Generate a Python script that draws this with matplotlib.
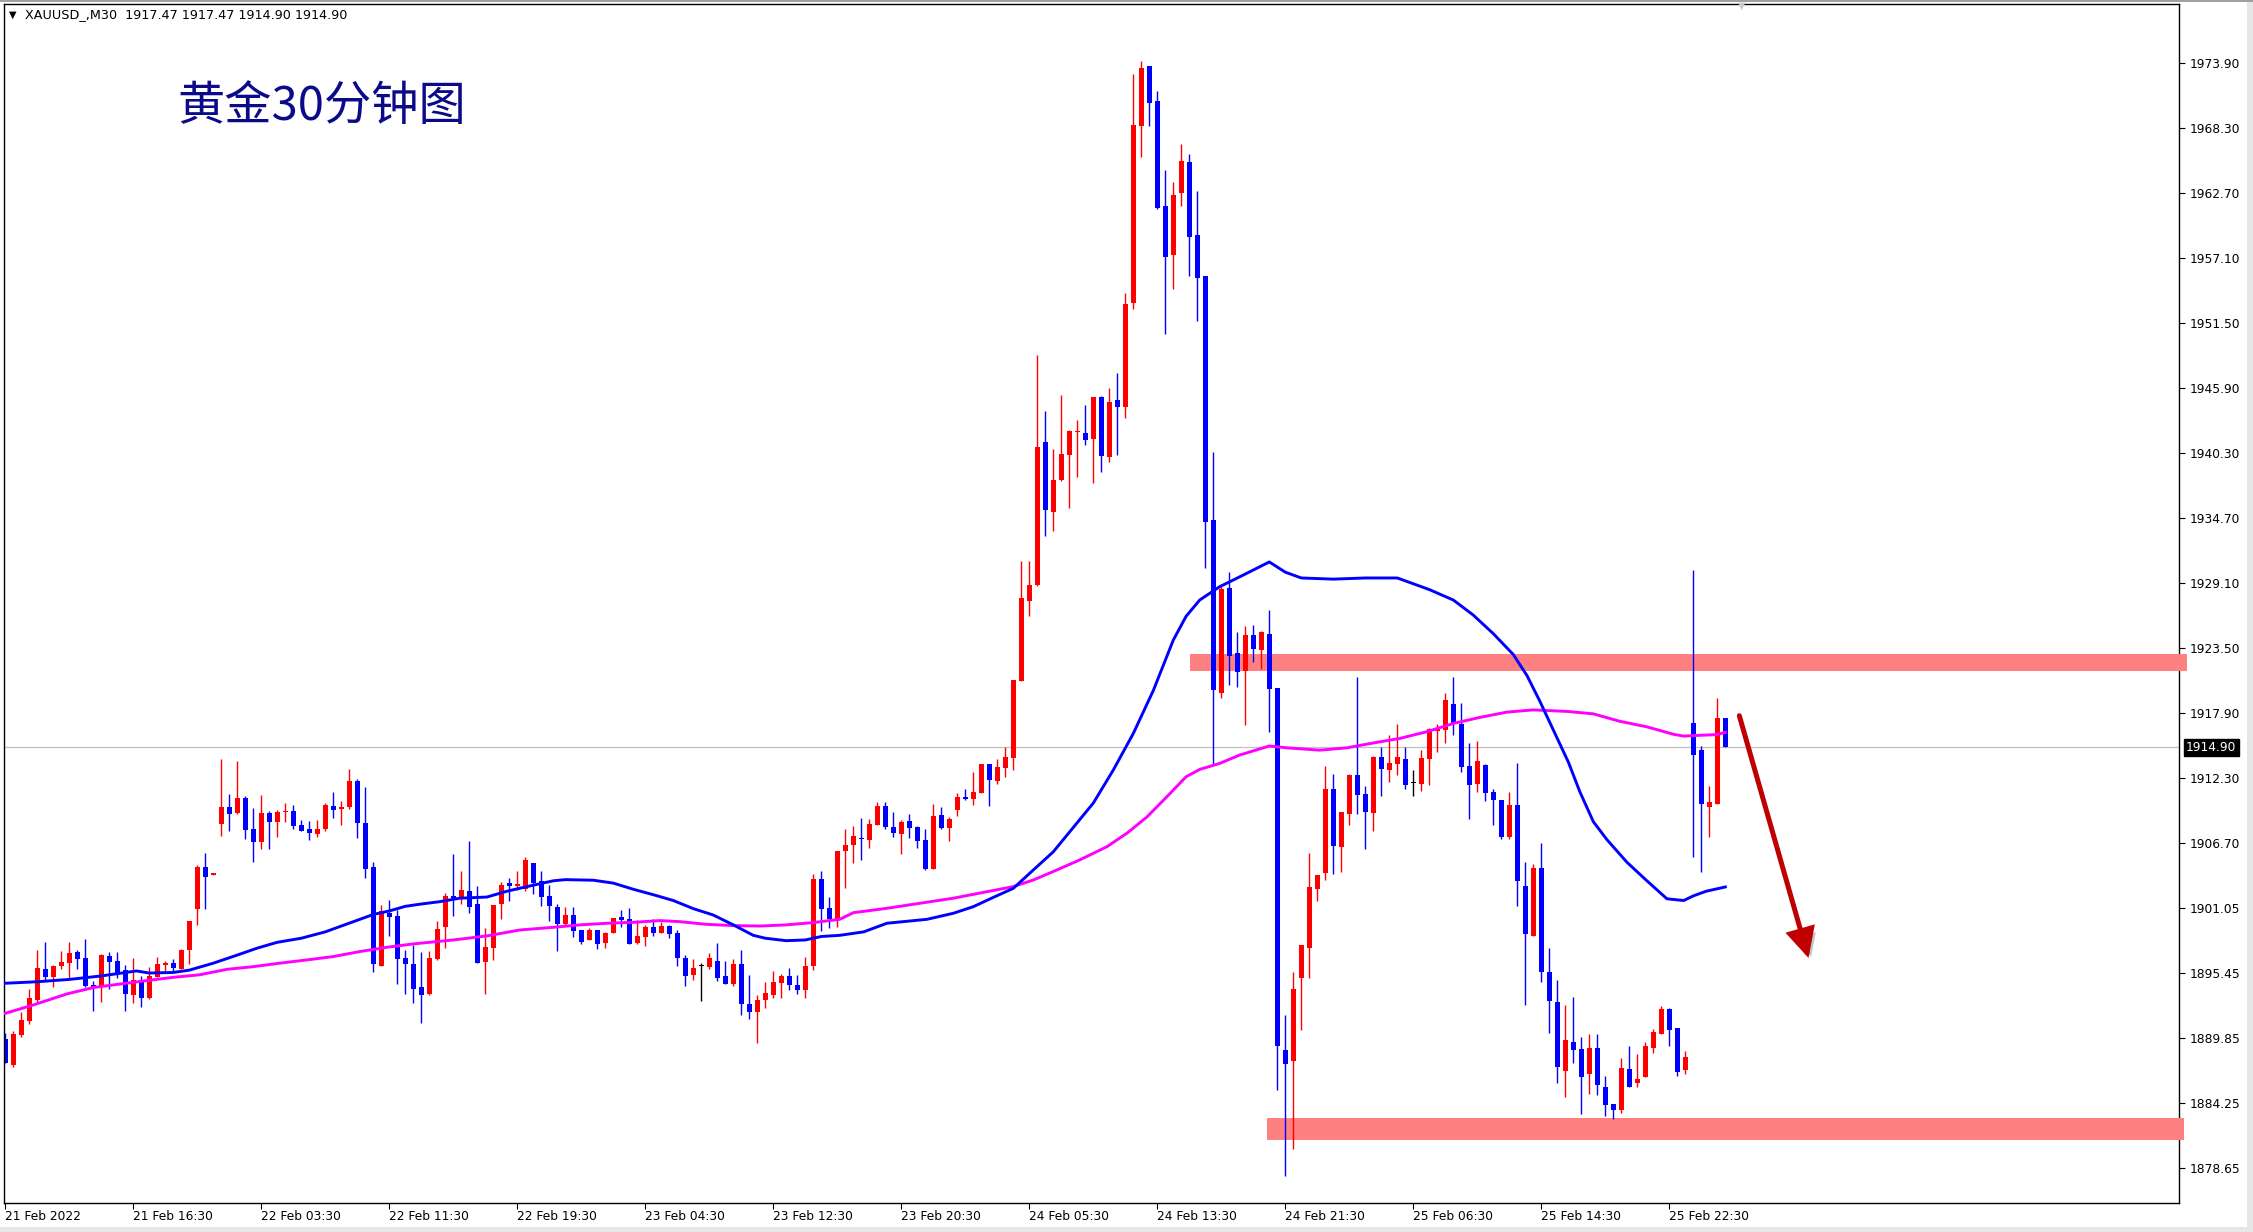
import matplotlib
matplotlib.use("Agg")
import matplotlib.pyplot as plt
from matplotlib.patches import Rectangle, FancyArrowPatch
from matplotlib import patheffects, transforms
import numpy as np

# ---------------- data ----------------
opens = [
    1889.74, 1887.50, 1890.12, 1891.32, 1893.13, 1895.80, 1895.11, 1896.06, 1896.32, 1897.30,
    1896.75, 1894.40, 1894.28, 1896.92, 1896.49, 1895.72, 1893.56, 1894.86, 1893.30, 1895.14,
    1896.18, 1896.32, 1895.80, 1897.44, 1900.97, 1904.59, 1903.93, 1908.30, 1909.76, 1909.25,
    1910.54, 1907.87, 1906.75, 1909.25, 1908.47, 1909.33, 1909.42, 1908.21, 1907.87, 1907.44,
    1907.87, 1909.85, 1909.62, 1909.76, 1912.00, 1908.39, 1904.59, 1896.06, 1900.63, 1900.37,
    1896.75, 1896.23, 1894.25, 1893.65, 1896.66, 1899.42, 1902.09, 1901.92, 1902.52, 1901.40,
    1896.40, 1897.61, 1901.40, 1903.21, 1902.96, 1902.70, 1904.94, 1903.39, 1902.09, 1901.14,
    1899.68, 1900.45, 1899.16, 1898.30, 1899.16, 1898.04, 1898.90, 1900.28, 1900.11, 1898.04,
    1898.56, 1899.42, 1898.90, 1899.51, 1898.90, 1896.75, 1895.28, 1896.06, 1895.97, 1896.49,
    1895.20, 1894.51, 1896.23, 1892.78, 1892.09, 1893.13, 1893.56, 1894.59, 1895.20, 1894.42,
    1893.99, 1896.06, 1903.56, 1901.06, 1900.11, 1905.97, 1906.48, 1907.09, 1906.92, 1908.21,
    1909.85, 1908.04, 1907.43, 1908.55, 1908.04, 1906.92, 1904.41, 1909.07, 1907.95, 1909.50,
    1910.62, 1910.45, 1910.97, 1913.47, 1912.00, 1913.12, 1913.98, 1920.62, 1927.51, 1928.89,
    1941.22, 1935.18, 1937.94, 1940.10, 1942.08, 1941.99, 1941.48, 1945.09, 1939.92, 1944.84,
    1944.23, 1953.20, 1968.45, 1973.62, 1970.60, 1961.56, 1957.33, 1962.68, 1965.35, 1959.06,
    1955.52, 1934.49, 1919.58, 1928.63, 1923.00, 1921.47, 1924.58, 1923.32, 1924.68, 1920.01,
    1888.78, 1887.91, 1895.01, 1897.63, 1902.69, 1904.06, 1911.35, 1906.29, 1909.12, 1912.52,
    1910.87, 1909.21, 1914.08, 1912.91, 1913.49, 1913.88, 1911.84, 1911.74, 1913.88, 1916.31,
    1916.41, 1918.65, 1916.90, 1913.30, 1911.74, 1913.40, 1911.06, 1910.38, 1907.17, 1909.89,
    1902.99, 1898.61, 1904.54, 1895.50, 1892.96, 1887.03, 1889.51, 1888.90, 1886.77, 1889.00,
    1885.59, 1884.15, 1883.67, 1887.18, 1886.00, 1886.45, 1889.03, 1890.21, 1892.35, 1890.69,
    1887.12, 1916.99, 1914.66, 1909.72, 1910.01, 1917.47,
]
highs = [
    1890.26, 1890.46, 1892.13, 1894.05, 1897.44, 1898.13, 1896.10, 1897.35, 1898.13, 1897.44,
    1898.39, 1894.77, 1897.09, 1897.27, 1897.27, 1896.15, 1896.72, 1895.20, 1895.98, 1896.81,
    1896.46, 1896.66, 1897.53, 1899.94, 1904.77, 1905.80, 1904.05, 1913.90, 1910.88, 1913.73,
    1910.71, 1909.68, 1910.80, 1909.42, 1909.51, 1910.11, 1909.94, 1908.64, 1908.56, 1908.64,
    1910.11, 1911.06, 1910.28, 1913.04, 1912.18, 1911.49, 1905.02, 1901.32, 1901.75, 1900.89,
    1897.44, 1897.87, 1897.27, 1897.35, 1899.94, 1902.35, 1905.71, 1904.25, 1906.83, 1902.96,
    1899.34, 1901.32, 1903.30, 1903.65, 1904.25, 1905.45, 1904.94, 1904.25, 1903.04, 1901.40,
    1901.14, 1901.14, 1899.16, 1899.34, 1899.16, 1899.00, 1900.20, 1900.89, 1901.06, 1900.02,
    1899.59, 1900.11, 1899.85, 1899.59, 1899.16, 1897.01, 1896.66, 1896.32, 1897.18, 1898.04,
    1896.49, 1896.66, 1897.44, 1895.28, 1893.56, 1894.68, 1895.63, 1895.37, 1895.89, 1895.28,
    1896.84, 1903.99, 1904.25, 1902.01, 1905.97, 1907.86, 1908.12, 1908.81, 1908.73, 1910.19,
    1910.19, 1909.33, 1908.64, 1909.16, 1908.12, 1907.86, 1910.02, 1909.76, 1908.90, 1910.97,
    1911.31, 1912.78, 1913.47, 1913.47, 1913.90, 1914.93, 1920.70, 1930.96, 1930.96, 1948.71,
    1943.89, 1940.61, 1945.27, 1942.25, 1943.11, 1944.40, 1945.09, 1945.18, 1945.87, 1947.16,
    1954.06, 1972.93, 1974.05, 1973.62, 1971.47, 1964.66, 1963.62, 1966.90, 1966.04, 1962.85,
    1955.52, 1940.35, 1928.80, 1930.01, 1924.84, 1925.36, 1925.46, 1924.97, 1926.72, 1920.01,
    1891.80, 1895.50, 1897.83, 1905.81, 1903.86, 1913.30, 1912.62, 1909.31, 1912.62, 1920.98,
    1911.55, 1914.17, 1914.95, 1915.93, 1916.90, 1914.95, 1912.91, 1914.66, 1916.61, 1916.90,
    1919.62, 1920.98, 1918.75, 1915.24, 1915.44, 1913.49, 1911.35, 1910.38, 1911.06, 1913.59,
    1905.03, 1904.83, 1906.68, 1897.63, 1894.81, 1892.67, 1893.40, 1889.92, 1890.21, 1890.21,
    1886.58, 1884.15, 1888.14, 1889.16, 1888.46, 1889.48, 1890.63, 1892.60, 1892.41, 1890.69,
    1888.74, 1930.22, 1914.98, 1911.57, 1919.16, 1917.47,
]
lows = [
    1887.67, 1887.39, 1889.97, 1891.06, 1892.99, 1894.86, 1894.28, 1895.77, 1895.00, 1895.83,
    1894.28, 1892.21, 1892.99, 1894.05, 1894.99, 1892.21, 1892.90, 1892.56, 1893.24, 1895.11,
    1895.63, 1895.60, 1895.80, 1896.23, 1899.59, 1900.97, 1903.93, 1907.26, 1907.70, 1909.16,
    1907.01, 1905.02, 1906.14, 1906.14, 1907.18, 1908.47, 1907.87, 1907.72, 1906.92, 1907.18,
    1907.70, 1908.82, 1908.21, 1909.59, 1907.09, 1903.65, 1895.54, 1896.06, 1898.65, 1894.51,
    1893.65, 1892.87, 1891.18, 1893.56, 1896.58, 1897.61, 1900.37, 1901.40, 1900.63, 1896.32,
    1893.65, 1896.58, 1900.11, 1901.66, 1902.61, 1902.52, 1902.27, 1901.23, 1899.94, 1897.35,
    1899.59, 1898.56, 1897.96, 1898.30, 1897.52, 1897.61, 1898.90, 1899.42, 1897.96, 1897.96,
    1897.78, 1898.65, 1898.90, 1898.47, 1896.06, 1894.34, 1894.85, 1893.04, 1895.80, 1894.77,
    1894.51, 1894.34, 1891.80, 1891.49, 1889.42, 1892.44, 1893.30, 1893.30, 1893.99, 1893.65,
    1893.30, 1895.72, 1899.08, 1899.34, 1899.45, 1902.81, 1904.90, 1905.19, 1906.23, 1908.21,
    1907.86, 1907.17, 1905.71, 1907.09, 1906.23, 1904.33, 1904.41, 1907.86, 1906.83, 1908.98,
    1910.36, 1909.93, 1910.97, 1909.85, 1911.75, 1912.35, 1912.95, 1920.62, 1926.22, 1928.80,
    1933.12, 1933.55, 1937.86, 1935.53, 1938.20, 1940.96, 1937.69, 1938.63, 1939.49, 1940.10,
    1943.29, 1952.68, 1965.78, 1968.45, 1961.31, 1950.52, 1954.40, 1961.56, 1955.52, 1951.64,
    1930.36, 1913.38, 1919.15, 1920.27, 1920.13, 1916.80, 1922.25, 1921.67, 1916.22, 1885.38,
    1877.98, 1880.32, 1890.53, 1895.01, 1901.62, 1903.47, 1903.96, 1904.15, 1908.24, 1909.12,
    1906.10, 1907.66, 1910.67, 1911.94, 1912.52, 1911.35, 1910.67, 1911.16, 1911.64, 1914.47,
    1915.24, 1915.93, 1912.81, 1908.73, 1911.06, 1910.28, 1908.24, 1906.97, 1906.97, 1901.23,
    1892.67, 1898.61, 1894.72, 1890.24, 1885.96, 1884.79, 1887.66, 1883.26, 1885.05, 1884.95,
    1883.13, 1882.88, 1883.36, 1885.65, 1885.59, 1886.45, 1888.55, 1890.21, 1889.19, 1886.55,
    1886.77, 1905.48, 1904.14, 1907.20, 1910.01, 1914.90,
]
closes = [
    1887.73, 1890.20, 1891.41, 1893.33, 1895.92, 1895.11, 1896.06, 1896.41, 1897.18, 1896.70,
    1894.37, 1894.22, 1897.01, 1896.41, 1895.43, 1893.65, 1894.86, 1893.33, 1895.20, 1896.23,
    1896.29, 1895.89, 1897.44, 1899.94, 1904.59, 1903.73, 1904.05, 1909.76, 1909.16, 1910.54,
    1907.78, 1906.75, 1909.25, 1908.47, 1909.33, 1909.42, 1908.13, 1907.72, 1907.55, 1907.87,
    1909.94, 1909.51, 1909.76, 1912.00, 1908.39, 1904.42, 1896.23, 1900.80, 1900.28, 1896.66,
    1896.23, 1894.08, 1893.56, 1896.75, 1899.25, 1902.09, 1901.92, 1902.61, 1901.14, 1896.32,
    1897.70, 1901.32, 1903.04, 1902.96, 1903.13, 1905.20, 1903.21, 1902.01, 1901.23, 1899.68,
    1900.45, 1899.08, 1898.13, 1899.16, 1897.96, 1898.90, 1900.20, 1900.02, 1897.96, 1898.65,
    1899.42, 1898.90, 1899.51, 1898.82, 1896.75, 1895.20, 1895.89, 1896.06, 1896.75, 1895.02,
    1894.51, 1896.23, 1892.78, 1892.09, 1893.13, 1893.73, 1894.68, 1895.20, 1894.42, 1893.99,
    1896.06, 1903.56, 1900.97, 1900.11, 1905.97, 1906.48, 1907.26, 1907.00, 1908.30, 1909.85,
    1908.04, 1907.52, 1908.47, 1907.95, 1906.83, 1904.41, 1908.98, 1907.95, 1908.73, 1910.62,
    1910.45, 1911.05, 1913.47, 1912.09, 1913.21, 1914.07, 1920.70, 1927.77, 1928.89, 1940.79,
    1935.36, 1937.94, 1940.18, 1942.17, 1942.17, 1941.39, 1945.09, 1940.01, 1944.66, 1944.23,
    1953.11, 1968.54, 1973.45, 1970.43, 1961.38, 1957.16, 1962.50, 1965.43, 1958.88, 1955.35,
    1934.32, 1919.84, 1928.55, 1922.77, 1921.42, 1924.58, 1923.42, 1924.88, 1919.91, 1889.17,
    1887.61, 1894.04, 1897.83, 1902.89, 1903.86, 1911.35, 1906.39, 1909.31, 1912.52, 1910.77,
    1909.31, 1914.08, 1913.01, 1913.59, 1914.08, 1911.64, 1911.84, 1913.98, 1916.51, 1916.51,
    1918.94, 1916.90, 1913.20, 1911.64, 1913.69, 1910.96, 1910.38, 1907.17, 1909.89, 1903.38,
    1898.80, 1904.54, 1895.50, 1893.06, 1887.32, 1889.66, 1888.78, 1886.51, 1889.00, 1885.84,
    1884.09, 1883.67, 1887.28, 1885.65, 1886.32, 1889.16, 1890.37, 1892.35, 1890.50, 1886.96,
    1888.20, 1914.28, 1909.98, 1910.20, 1917.40, 1914.90,
]

time_labels = ["21 Feb 2022", "21 Feb 16:30", "22 Feb 03:30", "22 Feb 11:30", "22 Feb 19:30",
               "23 Feb 04:30", "23 Feb 12:30", "23 Feb 20:30", "24 Feb 05:30", "24 Feb 13:30",
               "24 Feb 21:30", "25 Feb 06:30", "25 Feb 14:30", "25 Feb 22:30"]
price_ticks = [1973.90, 1968.30, 1962.70, 1957.10, 1951.50, 1945.90, 1940.30, 1934.70, 1929.10,
               1923.50, 1917.90, 1912.30, 1906.70, 1901.05, 1895.45, 1889.85, 1884.25, 1878.65]

# moving averages read at sample bars
ma_fast_bar = [0, 4, 8, 12, 16.4, 18, 21, 23, 26, 29, 31.5, 34, 37, 40, 42, 44, 46, 48, 50, 52,
               54.3, 56.8, 60.2, 62.7, 65.2, 68.5, 70, 73.5, 76, 78.5, 81, 83.5, 86, 88.5, 91,
               93.5, 95, 97.6, 100, 102, 104.3, 107.3, 110.2, 115.2, 118.5, 121, 123.5, 126,
               128.5, 131, 133.5, 136, 138.5, 141, 143.5, 146, 147.6, 149.3, 151.8, 154.3, 158,
               160, 162, 166, 170, 174, 178, 181, 183.5, 186, 188.5, 190.2, 191.8, 193.5, 195.4,
               196.8, 198.5, 200.2, 202.7, 205.2, 207.7, 209.8, 211, 212.6, 215]
ma_fast_val = [1894.57, 1894.70, 1894.90, 1895.20, 1895.63, 1895.45, 1895.50, 1895.70, 1896.30,
               1897.00, 1897.60, 1898.10, 1898.45, 1899.00, 1899.50, 1900.00, 1900.50, 1900.80,
               1901.20, 1901.40, 1901.60, 1901.90, 1902.00, 1902.50, 1902.90, 1903.40, 1903.50,
               1903.45, 1903.20, 1902.67, 1902.20, 1901.70, 1901.00, 1900.45, 1899.60, 1898.70,
               1898.45, 1898.24, 1898.30, 1898.60, 1898.70, 1899.00, 1899.74, 1900.08, 1900.60,
               1901.17, 1901.97, 1902.75, 1904.33, 1905.90, 1908.00, 1910.10, 1912.95, 1916.10,
               1919.80, 1924.15, 1926.20, 1927.60, 1928.75, 1929.60, 1930.88, 1930.00, 1929.50,
               1929.40, 1929.50, 1929.50, 1928.50, 1927.60, 1926.30, 1924.70, 1922.90, 1921.10,
               1918.90, 1916.40, 1913.60, 1911.10, 1908.50, 1906.95, 1905.00, 1903.40, 1901.85,
               1901.70, 1902.10, 1902.50, 1902.87]
ma_slow_bar = [0, 3.5, 7.7, 11, 14.3, 17.7, 21, 24.3, 27.7, 31, 34.3, 37.7, 41, 44.3, 47.7, 51,
               56, 60.2, 64.3, 68.5, 71.8, 75.2, 78.5, 81.8, 84.3, 87.6, 91, 94.3, 97.6, 101,
               104.3, 106, 110.2, 114.3, 118.5, 122.7, 126, 128.5, 131, 134.3, 137.7, 140.2,
               142.7, 145.2, 147.6, 149.3, 151.8, 154.3, 158, 160.2, 164.3, 167.7, 171, 174.3,
               177.7, 181, 184.3, 187.7, 191, 195.2, 198.5, 201.8, 205.2, 208.5, 209.8, 211.8,
               213.9, 215]
ma_slow_val = [1891.98, 1892.70, 1893.65, 1894.20, 1894.50, 1894.80, 1895.08, 1895.30, 1895.77,
               1896.00, 1896.30, 1896.58, 1896.87, 1897.30, 1897.67, 1897.96, 1898.30, 1898.65,
               1899.16, 1899.39, 1899.60, 1899.74, 1899.82, 1899.97, 1899.88, 1899.65, 1899.54,
               1899.50, 1899.60, 1899.80, 1900.08, 1900.65, 1901.03, 1901.46, 1901.90, 1902.46,
               1902.90, 1903.47, 1904.20, 1905.20, 1906.34, 1907.50, 1908.90, 1910.65, 1912.37,
               1913.00, 1913.52, 1914.24, 1915.02, 1914.86, 1914.66, 1914.86, 1915.28, 1915.67,
               1916.25, 1916.96, 1917.48, 1917.94, 1918.13, 1918.00, 1917.79, 1917.15, 1916.67,
               1916.03, 1915.87, 1915.94, 1916.00, 1916.19]

zone_start = [148.1, 157.7]
zone_end = [272.7, 272.3]
zone_low = [1921.48, 1881.06]
zone_high = [1922.95, 1882.95]
arrow_from = (216.75, 1917.63)
arrow_to = (225.4, 1896.75)
current_price = 1914.90
symbol = "XAUUSD_,M30"
title = "黄金30分钟图"

# ---------------- figure ----------------
W, H = 2253, 1232
fig = plt.figure(figsize=(W / 100, H / 100), dpi=100)
fig.patch.set_facecolor("white")
ax = fig.add_axes([4 / W, 1 - 1203 / H, 2175 / W, 1199 / H])
ax.set_xlim(-0.1625, 271.71)
ax.set_ylim(1875.63, 1978.97)

o = np.array(opens); h = np.array(highs); l = np.array(lows); c = np.array(closes)
idx = np.arange(len(o))
cols = np.where(c > o, "#ff0000", np.where(c < o, "#0000ff", "#000000"))

# zones (under candles)
for xs, xe, lo, hi in zip(zone_start, zone_end, zone_low, zone_high):
    ax.add_patch(Rectangle((xs, lo), xe - xs, hi - lo, facecolor="#ff8080",
                           edgecolor="none", zorder=1, clip_on=False))

ax.axhline(current_price, color="#c0c0c0", lw=0.9, zorder=0.8)

ax.vlines(idx, l, h, colors=cols, linewidth=1.0, zorder=2)
ax.bar(idx, np.maximum(np.abs(c - o), 0.09), bottom=np.minimum(o, c), width=0.62,
       color=cols, linewidth=0, zorder=2.1)

ax.plot(ma_slow_bar, ma_slow_val, color="#ff00ff", lw=2.1, zorder=3,
        solid_joinstyle="round")
ax.plot(ma_fast_bar, ma_fast_val, color="#0000ff", lw=2.1, zorder=3.1,
        solid_joinstyle="round")

# arrow
arr = FancyArrowPatch(arrow_from, arrow_to, arrowstyle="-|>,head_length=0.9,head_width=0.45",
                      mutation_scale=18, lw=3.6, color="#c00000", shrinkA=0, shrinkB=0,
                      zorder=5, joinstyle="miter")
arr.set_path_effects([patheffects.SimplePatchShadow(offset=(3, -3), shadow_rgbFace="#888888",
                                                    alpha=0.5), patheffects.Normal()])
ax.add_patch(arr)

# axes styling
for s in ax.spines.values():
    s.set_color("black"); s.set_linewidth(1.0)
ax.spines["right"].set_zorder(0.9)
ax.yaxis.tick_right()
ax.set_yticks(price_ticks)
ax.set_yticklabels([f"{p:.2f}" for p in price_ticks])
ax.tick_params(axis="y", direction="out", length=4, width=0.8, pad=4, labelsize=8.8,
               labelcolor="#000000")
tick_bars = [16 * k for k in range(len(time_labels))]
ax.set_xticks(tick_bars)
ax.set_xticklabels(time_labels, ha="left")
ax.tick_params(axis="x", direction="out", length=4, width=0.8, pad=1, labelsize=8.8)
for t in ax.get_xticklabels():
    t.set_horizontalalignment("left")

# current price box
trans = transforms.blended_transform_factory(ax.transAxes, ax.transData)
ax.text(1.0 + 7 / 2175, current_price, f"{current_price:.2f}", transform=trans, ha="left",
        va="center", fontsize=8.8, color="white", zorder=6, clip_on=False,
        bbox=dict(boxstyle="square,pad=0.18", facecolor="black", edgecolor="black"))

# header and title
fig.text(9 / W, 1 - 15 / H, "▼", fontsize=7, va="center", ha="left", color="black")
fig.text(25 / W, 1 - 15 / H,
         f"{symbol}  {opens[-1]:.2f} {highs[-1]:.2f} {lows[-1]:.2f} {closes[-1]:.2f}",
         fontsize=9.2, va="center", ha="left", color="black")
fig.text(1742 / W, 1 - 6 / H, "▼", fontsize=7, va="center", ha="center", color="#c8c8c8")
fig.text(177 / W, 1 - 107 / H, title, fontsize=34, color="#0b0b8a", fontweight="light",
         family=["Noto Sans CJK SC", "DejaVu Sans"], va="center", ha="left")

# window border
fig.patches.append(Rectangle((2247 / W, 0), 6 / W, 1, transform=fig.transFigure,
                             facecolor="#e6e6e6", edgecolor="none"))
fig.patches.append(Rectangle((0, 0), 1, 5 / H, transform=fig.transFigure,
                             facecolor="#e6e6e6", edgecolor="none"))
fig.patches.append(Rectangle((0, 1 - 2 / H), 1, 2 / H, transform=fig.transFigure,
                             facecolor="#a0a0a0", edgecolor="none"))

fig.savefig("out.png", dpi=100, facecolor="white")
